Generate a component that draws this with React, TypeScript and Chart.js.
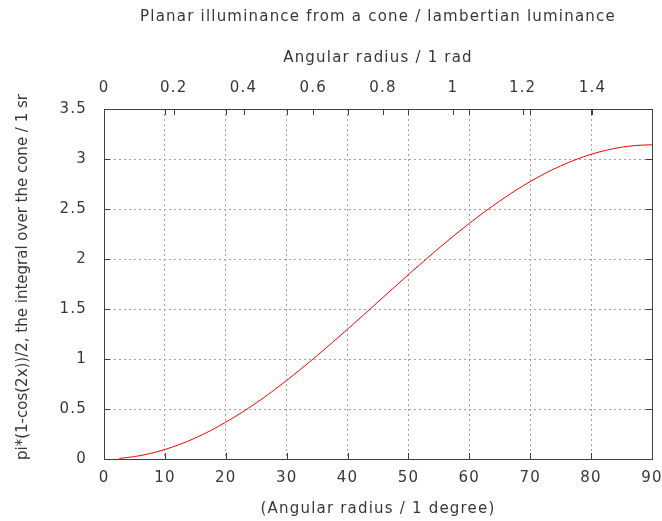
import { useEffect, useRef } from "react";
import { Chart, registerables } from "chart.js";

Chart.register(...registerables);

const chartTitle = "Planar illuminance from a cone / lambertian luminance";
const xTitle = "(Angular radius / 1 degree)";
const x2Title = "Angular radius / 1 rad";
const yTitle = "pi*(1-cos(2x))/2, the integral over the cone / 1 sr";

const degrees = [
  2.5, 5, 7.5, 10, 12.5, 15, 17.5, 20, 22.5, 25, 27.5, 30, 32.5, 35, 37.5, 40, 42.5, 45,
  47.5, 50, 52.5, 55, 57.5, 60, 62.5, 65, 67.5, 70, 72.5, 75, 77.5, 80, 82.5, 85, 87.5, 90,
];
const values = [
  0.006, 0.024, 0.054, 0.095, 0.147, 0.21, 0.284, 0.368, 0.46, 0.561, 0.67, 0.785, 0.907,
  1.034, 1.164, 1.298, 1.434, 1.571, 1.708, 1.844, 1.977, 2.108, 2.235, 2.356, 2.472, 2.58,
  2.682, 2.774, 2.858, 2.931, 2.994, 3.047, 3.088, 3.118, 3.136, 3.142,
];
const xTicks = [0, 10, 20, 30, 40, 50, 60, 70, 80, 90];
const yTicks = [0, 0.5, 1, 1.5, 2, 2.5, 3, 3.5];
const radTicks = [0, 0.2, 0.4, 0.6, 0.8, 1, 1.2, 1.4];
const radMax = 1.5708;

const FONT = "'DejaVu Sans', sans-serif";
const TEXT = "#383838";

const spacing = {
  id: "spacing",
  beforeDraw(chart: any) {
    chart.ctx.letterSpacing = "1.2px";
  },
};

const frameTicks = {
  id: "frameTicks",
  afterDraw(chart: any) {
    const { ctx, chartArea: a, scales } = chart;
    const L = 6;
    ctx.save();
    ctx.strokeStyle = "#404040";
    ctx.lineWidth = 1;
    ctx.beginPath();
    for (const v of xTicks) {
      const px = Math.round(scales.x.getPixelForValue(v)) + 0.5;
      ctx.moveTo(px, a.bottom);
      ctx.lineTo(px, a.bottom - L);
      ctx.moveTo(px, a.top);
      ctx.lineTo(px, a.top + L);
    }
    for (const v of radTicks) {
      const px = Math.round(scales.x2.getPixelForValue(v)) + 0.5;
      ctx.moveTo(px, a.top);
      ctx.lineTo(px, a.top + L);
    }
    for (const v of yTicks) {
      const py = Math.round(scales.y.getPixelForValue(v)) + 0.5;
      ctx.moveTo(a.left, py);
      ctx.lineTo(a.left + L, py);
      ctx.moveTo(a.right, py);
      ctx.lineTo(a.right - L, py);
    }
    ctx.stroke();
    ctx.strokeRect(
      Math.round(a.left) + 0.5,
      Math.round(a.top) + 0.5,
      Math.round(a.right - a.left),
      Math.round(a.bottom - a.top)
    );
    // vertical axis title (drawn without width compression)
    ctx.letterSpacing = "0px";
    ctx.translate(23, (a.top + a.bottom) / 2 - 7);
    ctx.rotate(-Math.PI / 2);
    ctx.fillStyle = TEXT;
    ctx.font = `15px ${FONT}`;
    ctx.textAlign = "center";
    ctx.textBaseline = "middle";
    ctx.fillText(yTitle, 0, 0);
    ctx.restore();
  },
};

const fmt = (v: any) => String(Number(v));

export default function App() {
  const ref = useRef<HTMLCanvasElement | null>(null);
  useEffect(() => {
    if (!ref.current) return;
    const chart = new Chart(ref.current, {
      type: "line",
      data: {
        datasets: [
          {
            data: degrees.map((d, i) => ({ x: d, y: values[i] })),
            borderColor: "#ff0000",
            borderWidth: 1,
            pointRadius: 0,
            cubicInterpolationMode: "monotone",
            fill: false,
            xAxisID: "x",
            yAxisID: "y",
          },
        ],
      },
      options: {
        responsive: false,
        animation: false,
        layout: { padding: { left: 0, right: 10, top: 0, bottom: 0 } },
        plugins: {
          legend: { display: false },
          tooltip: { enabled: false },
          title: {
            display: true,
            text: chartTitle,
            fullSize: false,
            color: TEXT,
            font: { family: FONT, size: 15, weight: "normal", lineHeight: 1.2 },
            padding: { top: 8, bottom: 4 },
          },
        },
        scales: {
          x: {
            type: "linear",
            position: "bottom",
            min: 0,
            max: 90,
            afterBuildTicks: (s: any) => {
              s.ticks = xTicks.map((v) => ({ value: v }));
            },
            afterFit: (s: any) => {
              s.height = 62;
              s.paddingLeft = 0;
              s.paddingRight = 0;
            },
            ticks: { color: TEXT, font: { family: FONT, size: 15 }, padding: 10, autoSkip: false, maxRotation: 0, callback: fmt },
            grid: { color: "#a0a0a0", drawTicks: false, lineWidth: 1 },
            border: { display: false, dash: [2, 3] },
            title: {
              display: true,
              text: xTitle,
              color: TEXT,
              font: { family: FONT, size: 15 },
              padding: { top: 0, bottom: 3 },
            },
          },
          x2: {
            type: "linear",
            position: "top",
            min: 0,
            max: radMax,
            afterBuildTicks: (s: any) => {
              s.ticks = radTicks.map((v) => ({ value: v }));
            },
            afterFit: (s: any) => {
              s.height = 79;
              s.paddingLeft = 0;
              s.paddingRight = 0;
            },
            ticks: { color: TEXT, font: { family: FONT, size: 15 }, padding: 12, autoSkip: false, maxRotation: 0, callback: fmt },
            grid: { display: false, drawTicks: false },
            border: { display: false },
            title: {
              display: true,
              text: x2Title,
              color: TEXT,
              font: { family: FONT, size: 15 },
              padding: { top: 19, bottom: 0 },
            },
          },
          y: {
            type: "linear",
            position: "left",
            min: 0,
            max: 3.5,
            afterBuildTicks: (s: any) => {
              s.ticks = yTicks.map((v) => ({ value: v }));
            },
            afterFit: (s: any) => {
              s.width = 104;
              s.paddingTop = 0;
              s.paddingBottom = 0;
            },
            ticks: { color: TEXT, font: { family: FONT, size: 15 }, padding: 17, autoSkip: false, callback: fmt },
            grid: { color: "#a0a0a0", drawTicks: false, lineWidth: 1 },
            border: { display: false, dash: [2, 3] },
            title: { display: false, text: yTitle },
          },
        },
      },
      plugins: [spacing, frameTicks],
    });
    return () => chart.destroy();
  }, []);
  return (
    <div style={{ position: "fixed", left: 0, top: 0, width: 662, height: 521, background: "#fff" }}>
      <canvas ref={ref} width={662} height={521} style={{ display: "block" }} />
    </div>
  );
}
